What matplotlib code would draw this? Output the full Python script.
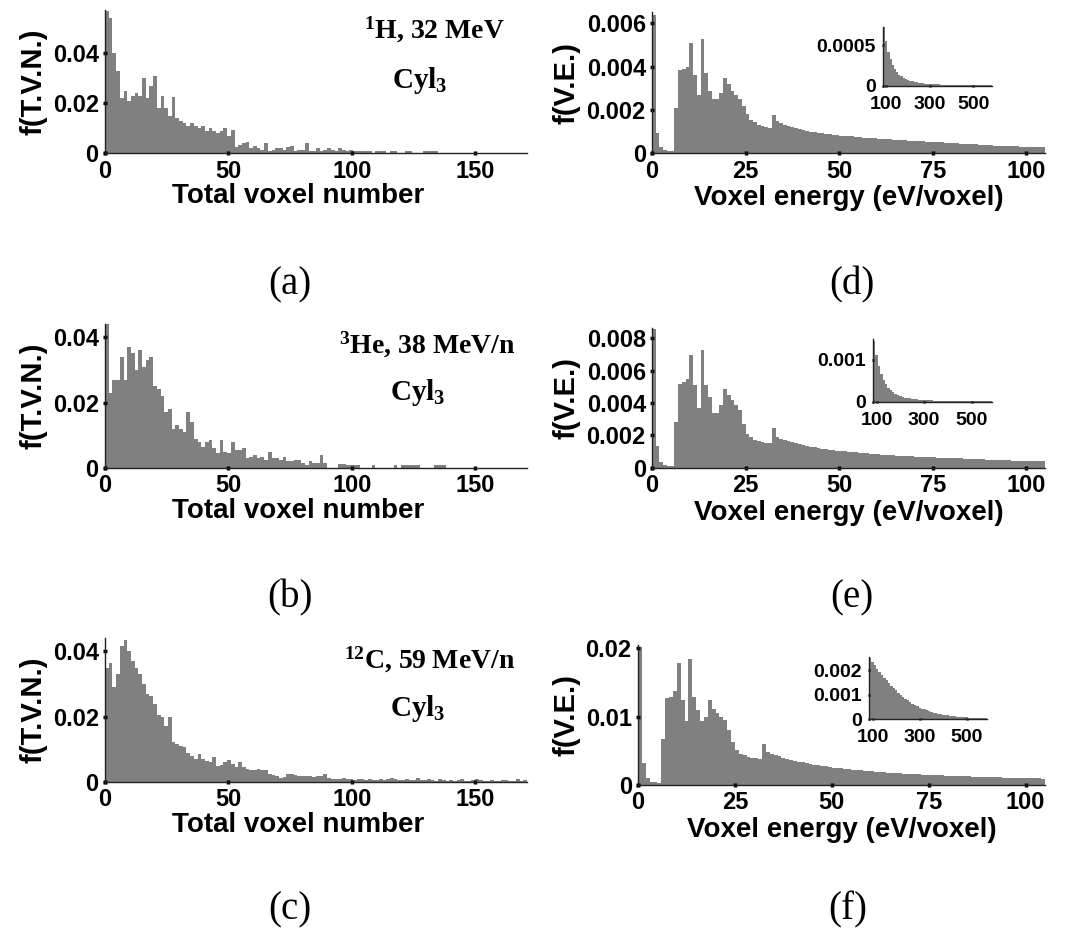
import numpy as np
import matplotlib.pyplot as plt

plt.rcParams['font.family'] = 'Liberation Sans'
plt.rcParams['font.weight'] = 'bold'
plt.rcParams['axes.labelweight'] = 'bold'
plt.rcParams['mathtext.fontset'] = 'custom'
plt.rcParams['mathtext.rm'] = 'Liberation Serif:bold'
plt.rcParams['mathtext.it'] = 'Liberation Serif:bold'
plt.rcParams['mathtext.bf'] = 'Liberation Serif:bold'

W, H = 1075, 931
GRAY = '#808080'

# ---- total voxel number histograms (bin width 1.5), values x 1e-3 ----
tvn_bin = 1.5
tvn_h = [57, 54, 40, 33, 22, 25, 21, 23, 24, 23, 30, 22, 27, 31, 18, 23, 18, 15, 22.7, 14,
         13, 12, 11, 12, 11, 10, 11, 9, 10, 9, 8, 9, 10, 7, 9.5,
         2.5, 3.5, 4, 4.5, 2, 3, 2, 1.5, 4.3, 1, 1.5, 2, 2, 1.5, 2.5, 3, 1, 1.5, 1.5, 4,
         1, 1, 2, 1, 1.5, 2, 1.5, 1, 2, 1.5, 1, 1.5, 1, 0.8, 0.8, 0.8, 0.8, 0, 0.8, 0.8,
         0.8, 0, 0.8, 0.8, 0, 0, 0.8, 0.8, 0, 0, 0, 0.8, 0.8, 0.8, 0.8,
         0, 0, 0, 0, 0, 0, 0, 0, 0, 0, 0, 0, 0, 0, 0, 0, 0, 0, 0, 0, 0, 0, 0, 0]
tvn_he = [44, 23, 27, 27, 34, 27, 37, 35, 30, 36, 31, 33, 34, 25, 24, 22, 17, 18, 12, 13,
          12, 11, 17, 14, 9, 8, 6.5, 8, 8.7, 6, 4.6, 8.7, 5,
          4.5, 8, 5.5, 5.5, 6, 3, 3.5, 4, 3, 3.5, 2.5, 5, 3, 3, 2.5, 3.5, 2, 2, 2.5, 2.5,
          1.5, 1, 2, 1.5, 1.5, 4, 1.5, 0,
          0, 0, 1.2, 1.2, 0.8, 1, 0.8, 0.8, 0, 0, 0, 0.8, 0, 0, 0, 0, 0, 0.8, 0, 0.8,
          0.8, 0.8, 0.8, 0.8, 0, 0, 0, 0, 0.8, 0.8, 0.8, 0,
          0, 0, 0, 0, 0, 0, 0, 0, 0, 0, 0, 0, 0, 0, 0, 0, 0, 0, 0, 0, 0]
tvn_c = [35, 36.5, 29, 33, 41.5, 43.6, 40, 37, 35, 33, 30, 27, 26.4, 24, 20.5, 20, 17.3, 19.8,
         12.2, 11.7, 11, 10.7, 9, 8, 7, 8.6, 7, 6.5, 6, 7.6, 5, 5.2, 6.2, 6.6, 5.6,
         4.6, 6, 4.5, 4, 3.8, 3.8, 4, 3.6, 3.7, 2.5, 2, 1.8, 1.3, 1.5, 2.5, 2.6, 2, 1.8,
         1.9, 1.7, 1.8, 1.6, 1.8, 1.7, 2.3, 1.2, 1, 1, 0.8, 1.2, 0.9, 1, 0.7, 0.9, 0.8,
         0.6, 1, 0.7, 0.6, 0.8, 0.5, 0.8, 1.3, 0.8, 0.6, 0.5, 0.8, 0.5, 0.6, 1.3, 0.6,
         0.5, 0.9, 0.5, 0.4, 1, 0.5, 0.4, 0.6, 0.3, 0.5, 0.8, 0.4, 0.3, 0.5, 1, 0.5, 0.3,
         0.4, 0.6, 0.4, 0.3, 0.5, 0.6, 0.3, 0.4, 0.8, 0.4, 0.5]

# ---- voxel energy histograms (bin width 1 eV) ----
ve_bin = 1.0
ve_h = [64, 9.2, 3, 1.5, 1, 1, 20.8, 38.5, 39, 40, 51, 36, 27, 53, 37, 29, 25, 25, 28, 35,
        32, 29, 27, 25, 22, 18, 15.5, 14.5, 13, 12.5, 12, 11.5, 17.7, 15, 14, 13.3, 12.7,
        12.2, 11.7, 11.2, 10.8, 10.4, 10, 9.7, 9.4, 9.2, 9, 8.8, 8.6, 8.4, 8.2, 8.1, 7.9,
        7.8, 7.6, 7.5, 7.3, 7.2, 7.1, 6.9, 6.8, 6.7, 6.6, 6.5, 6.3, 6.2, 6.1, 6, 5.9, 5.8,
        5.7, 5.6, 5.5, 5.4, 5.3, 5.2, 5.1, 5, 4.9, 4.8, 4.7, 4.6, 4.5, 4.4, 4.3, 4.2, 4.1,
        4, 3.9, 3.8, 3.7, 3.6, 3.5, 3.45, 3.4, 3.3, 3.25, 3.2, 3.1, 3.05, 3, 2.95, 2.9,
        2.85, 2.8]  # x 1e-4
ve_he = [86, 13.6, 3.7, 1.7, 1.2, 1, 28.5, 52, 53, 55, 70, 51, 37, 73, 51, 44, 34, 34, 39,
         49, 45, 42, 39, 36, 27, 21, 19, 17, 16.5, 16, 15.5, 15, 24.5, 19, 18, 17.2, 16.5,
         15.8, 15.2, 14.6, 14, 13.5, 13, 12.6, 12.2, 11.8, 11.5, 11.2, 10.9, 10.6, 10.3,
         10.1, 9.9, 9.7, 9.5, 9.3, 9.1, 8.9, 8.7, 8.5, 8.3, 8.1, 7.9, 7.8, 7.6, 7.5, 7.3,
         7.2, 7.1, 7, 6.9, 6.8, 6.7, 6.6, 6.5, 6.4, 6.3, 6.2, 6.1, 6, 5.9, 5.8, 5.7, 5.6,
         5.5, 5.4, 5.3, 5.2, 5.1, 5, 4.9, 4.8, 4.7, 4.65, 4.6, 4.5, 4.45, 4.4, 4.3, 4.25,
         4.2, 4.1, 4.05, 4, 3.95]  # x 1e-4
ve_c = [20.2, 3.2, 1, 0.5, 0.4, 0.3, 6.8, 12.7, 12.9, 13.7, 17.8, 12.4, 9.3, 18.5, 12.9, 11,
        9.3, 10, 12.4, 11.2, 10.5, 10, 9.5, 8, 6.3, 5.1, 4.6, 4.4, 4.1, 4, 3.9, 3.8, 6, 4.9,
        4.6, 4.4, 4.2, 4, 3.85, 3.7, 3.55, 3.42, 3.3, 3.2, 3.1, 3, 2.9, 2.8, 2.72, 2.64,
        2.56, 2.5, 2.43, 2.37, 2.31, 2.25, 2.2, 2.14, 2.09, 2.04, 2, 1.95, 1.91, 1.87, 1.83,
        1.79, 1.75, 1.72, 1.68, 1.65, 1.62, 1.59, 1.56, 1.53, 1.5, 1.47, 1.45, 1.42, 1.4,
        1.37, 1.35, 1.33, 1.31, 1.29, 1.27, 1.25, 1.23, 1.21, 1.19, 1.17, 1.15, 1.14, 1.12,
        1.1, 1.09, 1.07, 1.06, 1.04, 1.03, 1.01, 1, 0.99, 0.97, 0.96, 0.95]  # x 1e-3

# ---- insets: voxel energy 85-585 eV, bin width 10 eV, values x 1e-5 ----
ins_start, ins_bin = 85, 10
ins_h = [72, 55, 42, 33, 26, 21, 17, 14, 12, 10, 8.6, 7.4, 6.4, 5.6, 5, 4.4, 3.9, 3.5, 3.2,
         2.9, 2.7, 2.5, 2.3, 2.15, 2, 1.9, 1.8, 1.7, 1.6, 1.5, 1.42, 1.35, 1.28, 1.22, 1.16,
         1.1, 1.05, 1, 0.96, 0.92, 0.88, 0.85, 0.82, 0.79, 0.76, 0.73, 0.7, 0.68, 0.66, 0.64]
ins_he = [145, 112, 86, 67, 53, 42, 34, 28, 23, 19.5, 16.5, 14, 12.2, 10.7, 9.5, 8.4, 7.5,
          6.8, 6.2, 5.6, 5.1, 4.7, 4.3, 4, 3.7, 3.5, 3.3, 3.1, 2.9, 2.75, 2.6, 2.45, 2.35,
          2.25, 2.15, 2.05, 1.95, 1.87, 1.8, 1.73, 1.66, 1.6, 1.54, 1.48, 1.43, 1.38, 1.33,
          1.29, 1.25, 1.21]
ins_c = [250, 235, 220, 206, 193, 181, 169, 158, 147, 137, 127, 117, 108, 99, 91, 83, 76,
         69, 63, 57, 52, 47, 43, 39, 35, 32, 29, 26, 24, 22, 20, 18, 16, 14.5, 13, 11.7,
         10.5, 9.5, 8.5, 7.7, 7, 6.3, 5.7, 5.1, 4.6, 4.2, 3.8, 3.4, 3.1, 2.8]

particles = [r'$^{1}$H, 32 MeV', r'$^{3}$He, 38 MeV/n', r'$^{12}$C, 59 MeV/n']
panel_tags = ['(a)', '(b)', '(c)', '(d)', '(e)', '(f)']


def px_rect(left, top, right, bottom):
    return [left / W, 1 - bottom / H, (right - left) / W, (bottom - top) / H]


def style(ax, labelsize):
    for s in ['top', 'right']:
        ax.spines[s].set_visible(False)
    for s in ['left', 'bottom']:
        ax.spines[s].set_linewidth(1.0)
        ax.spines[s].set_color('#222222')
    ax.tick_params(direction='inout', length=3, width=2.5, pad=3, labelsize=labelsize)


def hist_bars(ax, start, width, vals, scale):
    v = np.array(vals) * scale
    left = start + width * np.arange(len(v))
    ax.bar(left, v, width=width, align='edge', color=GRAY, linewidth=0)


fig = plt.figure(figsize=(W / 100, H / 100), dpi=100)

# left column
left_boxes = [(105, 10, 527, 153.3), (105, 324, 527, 468), (105, 638, 527, 782)]
left_ylims = [0.0573, 0.044, 0.0441]
for box, vals, ytop in zip(left_boxes, [tvn_h, tvn_he, tvn_c], left_ylims):
    ax = fig.add_axes(px_rect(*box))
    hist_bars(ax, 0, tvn_bin, vals, 1e-3)
    ax.set_xlim(0, 171)
    ax.set_ylim(0, ytop)
    ax.set_xticks([0, 50, 100, 150])
    ax.set_yticks([0, 0.02, 0.04])
    ax.set_yticklabels(['0', '0.02', '0.04'])
    style(ax, 17)
    ax.set_ylabel('f(T.V.N.)', fontsize=21, labelpad=4)
    ax.set_xlabel('Total voxel number', fontsize=20)
    ax.xaxis.set_label_coords(0.457, -0.205)

# right column
right_boxes = [(652, 12, 1045, 153.3), (652, 328, 1045, 467.7), (638, 645, 1045, 785)]
right_data = [(ve_h, 1e-4), (ve_he, 1e-4), (ve_c, 1e-3)]
right_ylims = [0.00653, 0.00865, 0.0205]
right_yticks = [[0, 0.002, 0.004, 0.006], [0, 0.002, 0.004, 0.006, 0.008], [0, 0.01, 0.02]]
right_ylabels = [['0', '0.002', '0.004', '0.006'], ['0', '0.002', '0.004', '0.006', '0.008'],
                 ['0', '0.01', '0.02']]
for box, (vals, sc), ytop, yt, ytl in zip(right_boxes, right_data, right_ylims,
                                          right_yticks, right_ylabels):
    ax = fig.add_axes(px_rect(*box))
    hist_bars(ax, 0, ve_bin, vals, sc)
    ax.set_xlim(0, 105)
    ax.set_ylim(0, ytop)
    ax.set_xticks([0, 25, 50, 75, 100])
    ax.set_yticks(yt)
    ax.set_yticklabels(ytl)
    style(ax, 17)
    ax.set_ylabel('f(V.E.)', fontsize=21, labelpad=4)
    ax.set_xlabel('Voxel energy (eV/voxel)', fontsize=20, labelpad=2)

# insets
inset_boxes = [(883, 27, 992, 86), (873, 339, 992, 402), (869, 657, 987, 719)]
inset_ylims = [0.00072, 0.0015, 0.00254]
inset_yticks = [[0, 0.0005], [0, 0.001], [0, 0.001, 0.002]]
inset_ylabels = [['0', '0.0005'], ['0', '0.001'], ['0', '0.001', '0.002']]
for box, vals, ytop, yt, ytl in zip(inset_boxes, [ins_h, ins_he, ins_c], inset_ylims,
                                    inset_yticks, inset_ylabels):
    ax = fig.add_axes(px_rect(*box))
    hist_bars(ax, ins_start, ins_bin, vals, 1e-5)
    ax.set_xlim(ins_start, 585)
    ax.set_ylim(0, ytop)
    ax.set_xticks([100, 300, 500])
    ax.set_yticks(yt)
    ax.set_yticklabels(ytl)
    style(ax, 14)
    ax.tick_params(length=2, width=2)
    ax.tick_params(axis='x', pad=6)
    ax.tick_params(axis='y', pad=4)

# ion annotations
ion_pos = [(505, 30, 420, 80), (515, 345, 418, 392), (515, 660, 418, 708)]
for txt, (xr, yr, xc, yc) in zip(particles, ion_pos):
    fig.text(xr / W, 1 - yr / H, txt, family='Liberation Serif', weight='bold',
             fontsize=20, ha='right', va='center')
    fig.text(xc / W, 1 - yc / H, r'Cyl$_{3}$', family='Liberation Serif', weight='bold',
             fontsize=21, ha='center', va='center')

# panel tags
tag_pos = [(290, 285), (290, 598), (290, 910), (852, 285), (852, 598), (848, 910)]
for tag, (x, y) in zip(panel_tags, tag_pos):
    fig.text(x / W, 1 - y / H, tag, family='Liberation Serif', weight='normal',
             fontsize=28, ha='center', va='center')

fig.savefig('out.png', dpi=100)
